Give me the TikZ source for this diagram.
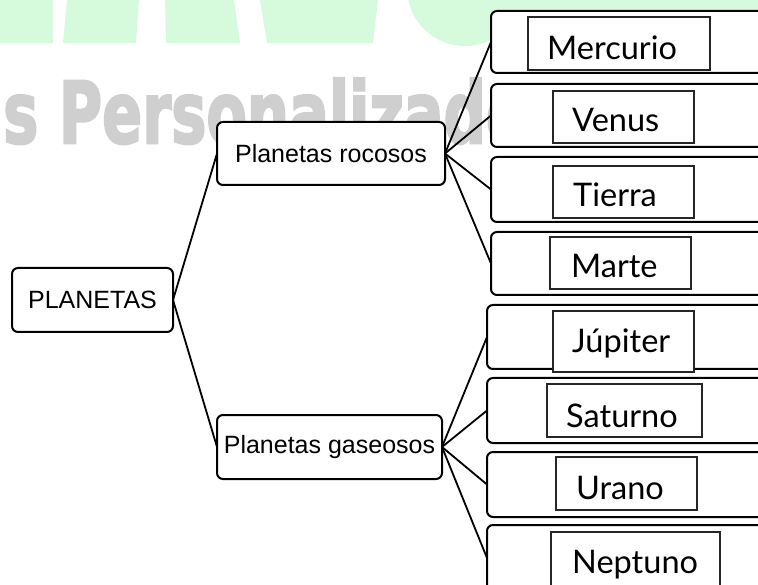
\documentclass[tikz,border=0pt]{standalone}
\usepackage{fontspec}
\usepackage{graphicx}
\newfontfamily\arialf{Liberation Sans}
\newfontfamily\latof{Lato}
\newfontfamily\wmfont{DejaVu Sans}[UprightFont={* Bold}, FakeBold=3]
\definecolor{wmgreen}{HTML}{D6FADC}
\definecolor{wmgrey}{HTML}{CFCFCF}
\tikzset{
  mainbox/.style={draw, line width=2pt, rounded corners=6pt, fill=white,
    inner sep=0pt, outer sep=0pt, font=\arialf\fontsize{25}{29}\selectfont},
  planetbox/.style={draw, line width=2pt, rounded corners=6pt, fill=white,
    anchor=west, minimum width=300pt, inner sep=0pt, outer sep=0pt},
  namebox/.style={draw=black!85, line width=1.4pt, fill=white, inner sep=0pt, outer sep=0pt},
  nametext/.style={anchor=base west, inner sep=0pt, font=\latof\fontsize{32.5}{37}\selectfont},
  link/.style={line width=1.8pt}
}
\begin{document}
\begin{tikzpicture}[x=1pt,y=-1pt]
\useasboundingbox (0,0) rectangle (758,585);
\clip (0,0) rectangle (758,585);
% watermark
\fill[wmgreen] (0,0) -- (53,0) -- (53,43) -- (0,43) -- cycle;
\fill[wmgreen] (67,0) -- (139,0) -- (136,43) -- (63,43) -- cycle;
\fill[wmgreen] (165,0) -- (234,0) -- (240,43) -- (166,43) -- cycle;
\fill[wmgreen] (260,0) -- (378,0) -- (373,43) -- (267,43) -- cycle;
\fill[wmgreen] (465,-12) circle[radius=58];
\fill[wmgreen] (470,0) rectangle (758,12);
\node[anchor=base west, inner sep=0pt, text=wmgrey] (wm) at (3,143)
  {\scalebox{0.72}[1.04]{\wmfont\fontsize{82}{90}\selectfont s Personalizados}};
% main boxes
\node[mainbox, minimum width=161pt, minimum height=64pt] (root) at (92.5,300) {PLANETAS};
\node[mainbox, minimum width=228pt, minimum height=63pt] (roc) at (331,153.5) {Planetas rocosos};
\node[mainbox, minimum width=225pt, minimum height=64pt] (gas) at (329.5,447) {Planetas gaseosos};
% planet outer boxes
\node[planetbox, minimum height=62pt] (p1) at (491,42) {};
\node[planetbox, minimum height=63pt] (p2) at (491,115.5) {};
\node[planetbox, minimum height=65pt] (p3) at (491,189.5) {};
\node[planetbox, minimum height=63pt] (p4) at (491,263.5) {};
\node[planetbox, minimum height=64pt] (p5) at (487,337) {};
\node[planetbox, minimum height=65pt] (p6) at (487,410.5) {};
\node[planetbox, minimum height=65pt] (p7) at (487,484.5) {};
\node[planetbox, minimum height=66pt] (p8) at (487,558) {};
% inner name boxes
\node[namebox, minimum width=182pt, minimum height=53pt] (b1) at (619,43.5) {};
\node[namebox, minimum width=141pt, minimum height=52pt] (b2) at (623.5,117) {};
\node[namebox, minimum width=141pt, minimum height=52pt] (b3) at (623.5,192) {};
\node[namebox, minimum width=141pt, minimum height=52pt] (b4) at (620.5,263) {};
\node[namebox, minimum width=141pt, minimum height=61pt] (b5) at (623.5,341.5) {};
\node[namebox, minimum width=155pt, minimum height=53pt] (b6) at (624.5,410.5) {};
\node[namebox, minimum width=141pt, minimum height=53pt] (b7) at (626.5,483.5) {};
\node[namebox, minimum width=169pt, minimum height=70pt] (b8) at (635.5,567) {};
% names
\node[nametext] (t1) at (547,60) {Mercurio};
\node[nametext] (t2) at (572,132) {Venus};
\node[nametext] (t3) at (573,207) {Tierra};
\node[nametext] (t4) at (571,278) {Marte};
\node[nametext] (t5) at (572,353) {Júpiter};
\node[nametext] (t6) at (566,427) {Saturno};
\node[nametext] (t7) at (576,499) {Urano};
\node[nametext] (t8) at (572,573) {Neptuno};
% connectors
\draw[link] (root.east) -- (roc.west);
\draw[link] (root.east) -- (gas.west);
\foreach \p in {p1,p2,p3,p4} \draw[link] (roc.east) -- (\p.west);
\foreach \p in {p5,p6,p7,p8} \draw[link] (gas.east) -- (\p.west);
\end{tikzpicture}
\end{document}
